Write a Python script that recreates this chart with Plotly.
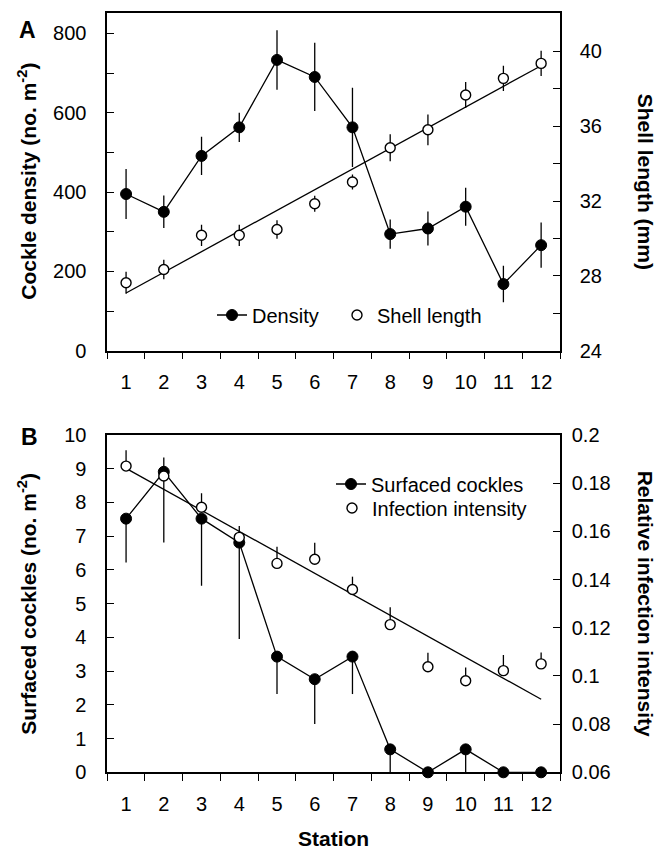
import numpy as np
import plotly.graph_objects as go

# ---------------- data ----------------
stations = list(range(1, 13))
station_labels = [str(s) for s in stations]

density = [395, 350, 491, 563, 733, 690, 563, 294, 308, 363, 168, 266]
density_err = [63, 41, 48, 37, 75, 86, 100, 37, 43, 48, 46, 57]

shell_length = [27.63, 28.34, 30.17, 30.17, 30.48, 31.86, 33.02, 34.85, 35.81, 37.67, 38.56, 39.36]
shell_err = [0.59, 0.52, 0.57, 0.57, 0.5, 0.43, 0.4, 0.72, 0.82, 0.7, 0.67, 0.68]

surfaced = [7.52, 8.91, 7.52, 6.81, 3.43, 2.76, 3.43, 0.68, 0.0, 0.68, 0.0, 0.0]
surfaced_err_down = [1.30, 2.10, 1.99, 2.86, 1.11, 1.33, 1.11, 0.68, 0.0, 0.68, 0.0, 0.0]

infection = [0.1871, 0.1830, 0.1700, 0.1575, 0.1467, 0.1484, 0.1359, 0.1213, 0.1038, 0.0980, 0.1022, 0.1050]
infection_err_up = [0.0066, 0.0077, 0.0058, 0.0047, 0.0069, 0.0069, 0.0053, 0.0072, 0.0058, 0.0055, 0.0065, 0.0047]

density_labels = [0, 200, 400, 600, 800]
density_minor = [100, 300, 500, 700]
shell_labels = [24, 28, 32, 36, 40]
shell_minor = [26, 30, 34, 38]
surfaced_ticks = list(range(0, 11))
infection_ticks = [0.06, 0.08, 0.10, 0.12, 0.14, 0.16, 0.18, 0.20]
infection_tick_text = ["0.06", "0.08", "0.1", "0.12", "0.14", "0.16", "0.18", "0.2"]

# linear regression lines (fit from the data)
xs = np.array(stations, dtype=float)
fit_shell = np.polyval(np.polyfit(xs, shell_length, 1), xs)
fit_inf = np.polyval(np.polyfit(xs, infection, 1), xs)

# ---------------- styling ----------------
W, H = 656, 850
FONT = "Liberation Sans, Arial, Helvetica, sans-serif"
FS = 20
TFS = 21
LW = 1.3
boundaries = [s - 0.5 for s in stations] + [stations[-1] + 0.5]

xdom = [107.2 / W, 560.0 / W]
ydomA = [1 - 350.7 / H, 1 - 12.7 / H]
ydomB = [1 - 772.3 / H, 1 - 435.0 / H]

fig = go.Figure()

filled = dict(symbol="circle", size=11, color="black", line=dict(color="black", width=1))
openm = dict(symbol="circle", size=10, color="white", line=dict(color="black", width=1.4))

# ---- Panel A ----
fig.add_trace(go.Scatter(
    x=stations, y=fit_shell, mode="lines", line=dict(color="black", width=LW),
    xaxis="x", yaxis="y2", showlegend=False, hoverinfo="skip"))
fig.add_trace(go.Scatter(
    x=stations, y=density, mode="lines+markers", name="Density",
    line=dict(color="black", width=LW), marker=filled, cliponaxis=False,
    error_y=dict(type="data", array=density_err, color="black", thickness=LW, width=0),
    xaxis="x", yaxis="y", legend="legend"))
fig.add_trace(go.Scatter(
    x=stations, y=shell_length, mode="markers", name="Shell length",
    marker=openm, cliponaxis=False,
    error_y=dict(type="data", array=shell_err, color="black", thickness=LW, width=0),
    xaxis="x", yaxis="y2", legend="legend2"))

# ---- Panel B ----
fig.add_trace(go.Scatter(
    x=stations, y=fit_inf, mode="lines", line=dict(color="black", width=LW),
    xaxis="x2", yaxis="y4", showlegend=False, hoverinfo="skip"))
fig.add_trace(go.Scatter(
    x=stations, y=surfaced, mode="lines+markers", name="Surfaced cockles",
    line=dict(color="black", width=LW), marker=filled, cliponaxis=False,
    error_y=dict(type="data", symmetric=False, array=[0] * len(stations),
                 arrayminus=surfaced_err_down, color="black", thickness=LW, width=0),
    xaxis="x2", yaxis="y3", legend="legend3"))
fig.add_trace(go.Scatter(
    x=stations, y=infection, mode="markers", name="Infection intensity",
    marker=openm, cliponaxis=False,
    error_y=dict(type="data", symmetric=False, array=infection_err_up,
                 arrayminus=[0] * len(stations), color="black", thickness=LW, width=0),
    xaxis="x2", yaxis="y4", legend="legend4"))

tickfont = dict(family=FONT, size=FS, color="black")

def xaxis_main(anchor):
    return dict(domain=xdom, anchor=anchor, range=[0.5, 12.5], tickmode="array",
                tickvals=stations, ticktext=station_labels, ticks="outside", ticklen=0,
                minor=dict(tickmode="array", tickvals=boundaries, ticks="outside",
                           ticklen=7, tickwidth=LW, tickcolor="black"),
                showline=True, linecolor="black", linewidth=1.5, mirror=True,
                showgrid=False, zeroline=False, tickfont=tickfont,
                ticklabelstandoff=13, automargin=False)

def xaxis_inner(anchor, over):
    return dict(domain=xdom, anchor=anchor, overlaying=over, range=[0.5, 12.5],
                tickmode="array", tickvals=boundaries, ticks="inside", ticklen=7,
                tickwidth=LW, tickcolor="black", showticklabels=False,
                showline=False, showgrid=False, zeroline=False, automargin=False)

def yaxis(dom, anchor, rng, labels, texts, minor_vals, standoff, side="left", over=None):
    d = dict(domain=dom, anchor=anchor, range=rng, side=side, tickmode="array",
             tickvals=labels, ticktext=texts,
             ticks="inside", ticklen=7, tickwidth=LW, tickcolor="black",
             showline=True, linecolor="black", linewidth=1.5, automargin=False,
             showgrid=False, zeroline=False, tickfont=tickfont, ticklabelstandoff=standoff)
    if minor_vals:
        d["minor"] = dict(tickmode="array", tickvals=minor_vals, ticks="inside",
                          ticklen=7, tickwidth=LW, tickcolor="black")
    if over:
        d["overlaying"] = over
    return d

def leg(xpx, ypx):
    return dict(orientation="v", x=xpx / W, y=1 - ypx / H, xanchor="left", yanchor="middle",
                bgcolor="rgba(0,0,0,0)", borderwidth=0,
                font=dict(family=FONT, size=FS, color="black"), itemclick=False)

fig.update_layout(
    width=W, height=H,
    margin=dict(l=0, r=0, t=0, b=0, autoexpand=False),
    paper_bgcolor="white", plot_bgcolor="white",
    font=dict(family=FONT, size=FS, color="black"),
    xaxis=xaxis_main("y"),
    xaxis2=xaxis_main("y3"),
    xaxis3=xaxis_inner("y", "x"),
    xaxis4=xaxis_inner("y3", "x2"),
    yaxis=yaxis(ydomA, "x", [0, 852], density_labels, [str(v) for v in density_labels],
                density_minor, 15),
    yaxis2=yaxis(ydomA, "x", [24, 42.07], shell_labels, [str(v) for v in shell_labels],
                 shell_minor, 14, side="right", over="y"),
    yaxis3=yaxis(ydomB, "x2", [0, 10], surfaced_ticks, [str(v) for v in surfaced_ticks],
                 None, 15),
    yaxis4=yaxis(ydomB, "x2", [0.06, 0.2], infection_ticks, infection_tick_text,
                 None, 6, side="right", over="y3"),
    legend=leg(212, 315),
    legend2=leg(337, 315),
    legend3=leg(331, 484),
    legend4=leg(332, 508),
    showlegend=True,
)

bold = dict(family=FONT, size=TFS, color="black")
ann = [
    dict(text="<b>Cockle density (no. m<sup>-2</sup>)</b>", x=27 / W, y=(ydomA[0] + ydomA[1]) / 2,
         textangle=-90),
    dict(text="<b>Shell length (mm)</b>", x=645 / W, y=(ydomA[0] + ydomA[1]) / 2, textangle=90),
    dict(text="<b>Surfaced cockles (no. m<sup>-2</sup>)</b>", x=27 / W,
         y=(ydomB[0] + ydomB[1]) / 2, textangle=-90),
    dict(text="<b>Relative infection intensity</b>", x=645 / W, y=(ydomB[0] + ydomB[1]) / 2,
         textangle=90),
    dict(text="<b>Station</b>", x=(xdom[0] + xdom[1]) / 2, y=1 - 838 / H),
    dict(text="<b>A</b>", x=27 / W, y=1 - 30 / H, font=dict(family=FONT, size=23, color="black")),
    dict(text="<b>B</b>", x=29 / W, y=1 - 437 / H, font=dict(family=FONT, size=23, color="black")),
]
for a in ann:
    a.setdefault("font", bold)
    fig.add_annotation(xref="paper", yref="paper", xanchor="center", yanchor="middle",
                       showarrow=False, **a)

fig.write_html("out.html")
